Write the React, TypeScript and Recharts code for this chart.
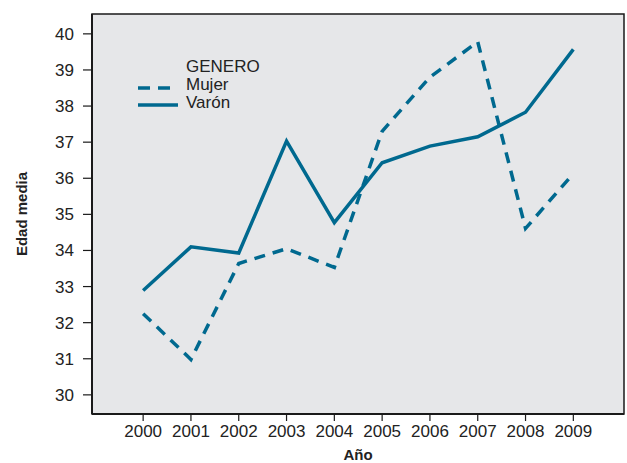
import React from "react";
import { LineChart, Line, XAxis, YAxis, ReferenceArea, Label } from "recharts";

const years = [2000, 2001, 2002, 2003, 2004, 2005, 2006, 2007, 2008, 2009];
const mujer = [32.25, 30.98, 33.64, 34.05, 33.53, 37.3, 38.8, 39.78, 34.61, 36.13];
const varon = [32.89, 34.1, 33.93, 37.03, 34.77, 36.43, 36.89, 37.15, 37.83, 39.57];
const yTicks = [30, 31, 32, 33, 34, 35, 36, 37, 38, 39, 40];
const legendTitle = "GENERO";
const legendNames = ["Mujer", "Varón"];

const data = years.map((y, i) => ({ year: y, Mujer: mujer[i], Varon: varon[i] }));

const X_DOMAIN: [number, number] = [1998.93, 2010.06];
const Y_DOMAIN: [number, number] = [29.47, 40.55];
const COLOR = "#00698f";
const FONT = "'Liberation Sans Narrow', 'Liberation Sans', Arial, sans-serif";

const LegendBox = () => (
  <svg
    width={140}
    height={70}
    style={{ position: "absolute", left: 138, top: 52, display: "block", pointerEvents: "none" }}
  >
    <text x={48} y={20} fontFamily={FONT} fontSize={17} fill="#222">{legendTitle}</text>
    <line x1={0} y1={36} x2={40} y2={36} stroke={COLOR} strokeWidth={3.5} strokeDasharray="12 8" />
    <text x={48} y={38} fontFamily={FONT} fontSize={17} fill="#222">{legendNames[0]}</text>
    <line x1={0} y1={53} x2={40} y2={53} stroke={COLOR} strokeWidth={3.5} />
    <text x={48} y={56} fontFamily={FONT} fontSize={17} fill="#222">{legendNames[1]}</text>
  </svg>
);

export default function App() {
  return (
    <div style={{ position: "absolute", left: 0, top: 0, width: 627, height: 463, background: "#fff" }}>
      <LineChart
        width={627}
        height={463}
        data={data}
        margin={{ top: 14, right: 3, left: 0, bottom: 0 }}
      >
        <ReferenceArea
          x1={X_DOMAIN[0]}
          x2={X_DOMAIN[1]}
          y1={Y_DOMAIN[0]}
          y2={Y_DOMAIN[1]}
          fill="#e6e7e9"
          fillOpacity={1}
          stroke="#1a1a1a"
          strokeWidth={1.5}
          ifOverflow="visible"
        />
        <XAxis
          dataKey="year"
          type="number"
          domain={X_DOMAIN}
          ticks={years}
          allowDataOverflow
          height={49}
          axisLine={{ stroke: "#1a1a1a", strokeWidth: 2 }}
          tickLine={{ stroke: "#1a1a1a", strokeWidth: 1.2 }}
          tickSize={7}
          tickMargin={4}
          tick={{ fill: "#222", fontSize: 17, fontFamily: FONT }}
        >
          <Label value="Año" position="insideBottom" offset={3} style={{ fontWeight: "bold", fontSize: 15, fontFamily: FONT, fill: "#222" }} />
        </XAxis>
        <YAxis
          type="number"
          domain={Y_DOMAIN}
          ticks={yTicks}
          allowDataOverflow
          width={92}
          axisLine={{ stroke: "#1a1a1a", strokeWidth: 2 }}
          tickLine={{ stroke: "#1a1a1a", strokeWidth: 1.2 }}
          tickSize={9}
          tickMargin={9}
          tick={{ fill: "#222", fontSize: 17, fontFamily: FONT }}
        >
          <Label
            value="Edad media"
            angle={-90}
            position="insideLeft"
            offset={22}
            style={{ fontWeight: "bold", fontSize: 15, fontFamily: FONT, fill: "#222", textAnchor: "middle" }}
          />
        </YAxis>
        <Line
          dataKey="Mujer"
          stroke={COLOR}
          strokeWidth={3.5}
          strokeDasharray="11 8"
          dot={false}
          isAnimationActive={false}
        />
        <Line
          dataKey="Varon"
          stroke={COLOR}
          strokeWidth={3.5}
          dot={false}
          isAnimationActive={false}
        />
      </LineChart>
      <LegendBox />
    </div>
  );
}
